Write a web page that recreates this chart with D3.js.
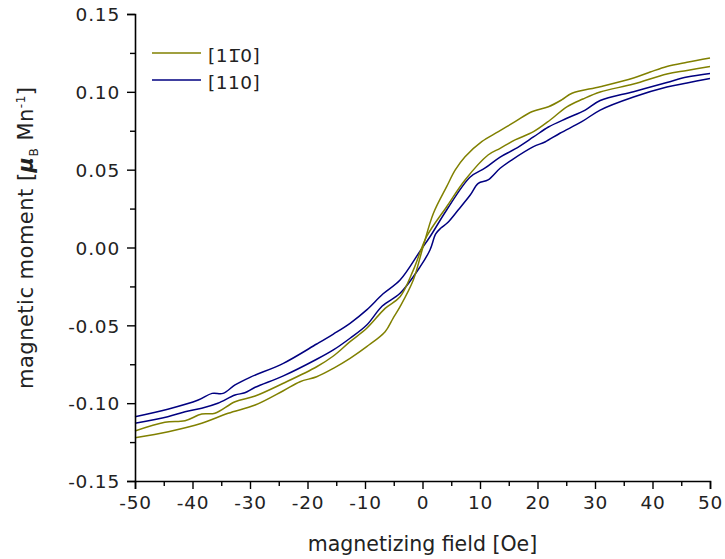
<!DOCTYPE html>
<html>
<head>
<meta charset="utf-8">
<script src="https://cdn.jsdelivr.net/npm/d3@7/dist/d3.min.js"></script>
<style>
  html, body { margin: 0; padding: 0; background: #fff; }
  svg text { font-family: "DejaVu Sans", Verdana, sans-serif; fill: #222; }
</style>
</head>
<body>
<svg id="chart" width="725" height="559"></svg>
<script>
// [1-10] sample, steep branch (low on the left, high on the right)
var oliveAField  = [-50, -44.2, -38.4, -33.8, -29.1, -24.2, -21.3, -18.4, -15.5, -12.6, -9.7, -6.5, -5.1, -3.9, -1.6, 0.1, 1.9, 4.2, 5.7, 7.4, 10.3, 13.2, 16.1, 19.0, 21.9, 24.2, 26.0, 30.9, 36.7, 39.6, 42.5, 46.0, 50];
var oliveAMoment = [-0.1222, -0.1183, -0.1129, -0.1065, -0.1012, -0.0920, -0.0862, -0.0830, -0.0776, -0.0712, -0.0637, -0.0541, -0.0453, -0.0380, -0.0209, 0.0005, 0.0220, 0.0391, 0.0498, 0.0583, 0.0680, 0.0744, 0.0808, 0.0872, 0.0904, 0.0948, 0.0991, 0.1033, 0.1089, 0.1127, 0.1163, 0.1190, 0.1217];

// [1-10] sample, gentle branch (high on the left, low on the right)
var oliveBField  = [-50, -44.8, -41.3, -38.4, -36.1, -32.6, -29.1, -24.2, -18.4, -15.5, -12.6, -9.7, -6.5, -3.9, -1.6, 0.7, 4.2, 7.4, 11.4, 13.5, 16.1, 19.3, 22.2, 25.1, 27.9, 30.9, 36.7, 42.5, 46.0, 50];
var oliveBMoment = [-0.1179, -0.1123, -0.1113, -0.1070, -0.1065, -0.0991, -0.0954, -0.0872, -0.0766, -0.0697, -0.0605, -0.0519, -0.0391, -0.0316, -0.0145, 0.0069, 0.0262, 0.0434, 0.0594, 0.0637, 0.0691, 0.0744, 0.0819, 0.0904, 0.0954, 0.0999, 0.1050, 0.1115, 0.1137, 0.1163];

// [110] sample, upper branch
var blueAField  = [-50, -44.3, -39.0, -36.6, -34.7, -32.6, -30.0, -24.2, -18.4, -15.5, -12.6, -9.7, -6.9, -3.9, -0.4, 1.3, 4.2, 8.3, 10.9, 13.5, 16.1, 19.3, 21.9, 25.1, 28.3, 30.9, 36.7, 42.5, 46.0, 50];
var blueAMoment = [-0.1087, -0.1039, -0.0980, -0.0937, -0.0937, -0.0883, -0.0834, -0.0744, -0.0620, -0.0556, -0.0487, -0.0401, -0.0299, -0.0209, -0.0022, 0.0069, 0.0241, 0.0453, 0.0511, 0.0581, 0.0633, 0.0710, 0.0774, 0.0830, 0.0883, 0.0944, 0.1001, 0.1060, 0.1095, 0.1118];

// [110] sample, lower branch
var blueBField  = [-50, -44.3, -41.3, -38.4, -35.6, -32.6, -30.9, -29.1, -24.2, -18.4, -15.5, -12.6, -9.7, -7.0, -3.9, -0.4, 1.3, 2.3, 3.2, 4.3, 6.2, 8.3, 9.7, 11.4, 13.5, 15.5, 19.3, 21.3, 23.9, 27.7, 30.9, 36.7, 42.5, 46.0, 50];
var blueBMoment = [-0.1129, -0.1087, -0.1055, -0.1033, -0.1001, -0.0948, -0.0933, -0.0898, -0.0825, -0.0718, -0.0658, -0.0583, -0.0498, -0.0376, -0.0294, -0.0123, -0.0016, 0.0087, 0.0125, 0.0157, 0.0241, 0.0337, 0.0412, 0.0434, 0.0509, 0.0562, 0.0648, 0.0678, 0.0734, 0.0808, 0.0883, 0.0967, 0.1031, 0.1057, 0.1086];

var xTicks = [-50, -40, -30, -20, -10, 0, 10, 20, 30, 40, 50];
var xMinorTicks = [-45, -35, -25, -15, -5, 5, 15, 25, 35, 45];
var yTicks = [-0.15, -0.10, -0.05, 0.00, 0.05, 0.10, 0.15];
var yMinorTicks = [-0.125, -0.075, -0.025, 0.025, 0.075, 0.125];

var olive = '#808000';
var navy = '#000080';

var margin = {top: 14, right: 15, bottom: 78, left: 135};
var width = 725 - margin.left - margin.right;
var height = 559 - margin.top - margin.bottom;

var svg = d3.select('#chart');
var g = svg.append('g')
	.attr('transform', 'translate(' + margin.left + ',' + margin.top + ')');

var x = d3.scaleLinear().domain([-50, 50]).range([0, width]);
var y = d3.scaleLinear().domain([-0.15, 0.15]).range([height, 0]);

function zip(hs, ms) {
	return hs.map(function(h, i) { return [h, ms[i]]; });
}

var line = d3.line()
	.x(function(d) { return x(d[0]); })
	.y(function(d) { return y(d[1]); })
	.curve(d3.curveCatmullRom.alpha(0.5));

var series = [
	{pts: zip(blueAField, blueAMoment), color: navy},
	{pts: zip(blueBField, blueBMoment), color: navy},
	{pts: zip(oliveBField, oliveBMoment), color: olive},
	{pts: zip(oliveAField, oliveAMoment), color: olive}
];

series.forEach(function(s) {
	g.append('path')
		.attr('d', line(s.pts))
		.attr('fill', 'none')
		.attr('stroke', s.color)
		.attr('stroke-width', 1.5);
});

// axes
g.append('g')
	.attr('transform', 'translate(0,' + height + ')')
	.call(d3.axisBottom(x).tickValues(xTicks).tickSize(8).tickPadding(7)
		.tickFormat(function(d) { return String(d); }));
g.append('g')
	.attr('transform', 'translate(0,' + height + ')')
	.call(d3.axisBottom(x).tickValues(xMinorTicks).tickSize(5).tickFormat(''))
	.select('.domain').remove();

var yAxis = g.append('g')
	.call(d3.axisLeft(y).tickValues(yTicks).tickSize(8).tickPadding(7)
		.tickFormat(function(d) { return d.toFixed(2); }));
g.append('g')
	.call(d3.axisLeft(y).tickValues(yMinorTicks).tickSize(5).tickFormat(''))
	.select('.domain').remove();

g.selectAll('.domain').attr('stroke', '#000').attr('stroke-width', 1.6);
g.selectAll('.tick line').attr('stroke', '#000').attr('stroke-width', 1.4);
g.selectAll('.tick text')
	.style('font-family', '"DejaVu Sans", Verdana, sans-serif')
	.style('font-size', '18.5px')
	.style('letter-spacing', '0.8px')
	.attr('fill', '#222');
yAxis.selectAll('.tick text').attr('dy', '0.36em');

// axis titles
svg.append('text')
	.attr('x', margin.left + width / 2)
	.attr('y', 551)
	.attr('text-anchor', 'middle')
	.style('font-size', '20.5px')
	.text('magnetizing field [Oe]');

var yTitle = svg.append('text')
	.attr('transform', 'translate(33,' + 238 + ') rotate(-90)')
	.attr('text-anchor', 'middle')
	.attr('textLength', 302)
	.attr('lengthAdjust', 'spacing')
	.style('font-size', '21px');
yTitle.append('tspan').text('magnetic moment [');
yTitle.append('tspan').text('\u03BC').style('font-style', 'italic').style('font-weight', 'bold');
yTitle.append('tspan').text('B').attr('dy', 5).style('font-size', '12px');
yTitle.append('tspan').text(' Mn').attr('dy', -5);
yTitle.append('tspan').text('-1').attr('dy', -8).style('font-size', '12px');
yTitle.append('tspan').text(']').attr('dy', 8);

// legend
var legendItems = [
	{label: '[11\u03050]', color: olive},
	{label: '[110]', color: navy}
];
var legend = svg.append('g');
legendItems.forEach(function(item, i) {
	var ly = 53 + i * 27;
	legend.append('line')
		.attr('x1', 152).attr('x2', 201)
		.attr('y1', ly).attr('y2', ly)
		.attr('stroke', item.color)
		.attr('stroke-width', 1.5);
	legend.append('text')
		.attr('x', 208)
		.attr('y', ly + 9)
		.style('font-size', '18.5px')
		.style('letter-spacing', '0.5px')
		.text(item.label);
});
</script>
</body>
</html>
